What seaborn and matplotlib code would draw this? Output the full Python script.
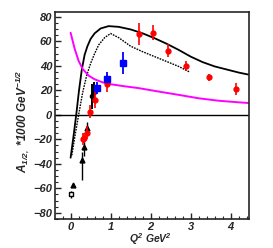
import numpy as np
import pandas as pd
import matplotlib
matplotlib.use("Agg")
import matplotlib.pyplot as plt
from matplotlib.ticker import MultipleLocator
import seaborn as sns

# model curves
solid_q2 = [0.0, 0.07, 0.14, 0.21, 0.28, 0.35, 0.42, 0.5, 0.6, 0.75, 0.95, 1.2, 1.5,
            1.8, 2.1, 2.4, 2.7, 3.0, 3.3, 3.6, 3.9, 4.2, 4.45]
solid_a = [-35, -18, 0, 20, 37, 49, 56, 62, 66.5, 70.5, 72.4, 71.8, 69.7,
           66.5, 62.5, 58, 53, 47.5, 43, 39.5, 37, 34.5, 32.8]
dotted_q2 = [0.03, 0.12, 0.2, 0.3, 0.4, 0.5, 0.6, 0.7, 0.85, 1.0, 1.2, 1.5, 1.8, 2.1,
             2.4, 2.7, 2.97]
dotted_a = [-33, -15, 0, 18, 32, 42, 50, 57, 63, 66.4, 63, 56, 51.5, 47.5, 43.5, 39.5, 35]
magenta_q2 = [0.0, 0.1, 0.2, 0.3, 0.45, 0.6, 0.8, 1.0, 1.3, 1.7, 2.2, 2.7, 3.2, 3.7, 4.2, 4.47]
magenta_a = [67, 54, 44, 37.5, 32, 29, 26.5, 25, 23.5, 21.8, 19, 16.3, 13.5, 11.5, 10.2, 9.6]

# data points
red_q2 = [0.30, 0.34, 0.40, 0.49, 0.61, 0.90, 1.72, 2.05, 2.43, 2.89, 3.46, 4.13]
red_a = [-20, -19, -14.5, 2.7, 12.3, 25.5, 65.6, 67, 52.5, 39.6, 30.6, 21]
red_err = [5, 4, 5, 5, 7, 7, 9, 6, 5, 4, 3, 5]

blue_q2 = [0.65, 0.92, 1.30]
blue_a = [22, 29.2, 42.4]
blue_err = [5, 6, 9]

tri_q2 = [0.28, 0.33, 0.40, 0.05]
tri_a = [-37, -26, -11, -57]
tri_lo = [16, 8, 5, 0]
tri_hi = [7, 8, 5, 0]

blk_q2 = [0.53, 0.58]
blk_a = [15, 19]
blk_err = [10, 8]

sq_q2 = [0.0]
sq_a = [-65]
sq_err = [3]

sns.set_style("ticks")
plt.rcParams['font.family'] = ['Liberation Sans', 'DejaVu Sans']
plt.rcParams['mathtext.fontset'] = 'custom'
plt.rcParams['mathtext.rm'] = 'Liberation Sans:bold:italic'
plt.rcParams['mathtext.it'] = 'Liberation Sans:bold:italic'
plt.rcParams['mathtext.bf'] = 'Liberation Sans:bold:italic'

fig = plt.figure(figsize=(2.73, 2.48), dpi=100)
ax = fig.add_axes([0.2015, 0.117, 0.711, 0.835])

ax.axhline(0, color="black", lw=1.0, zorder=1)

sns.lineplot(x=solid_q2, y=solid_a, color="black", lw=1.3, ax=ax, sort=False)
sns.lineplot(x=dotted_q2, y=dotted_a, color="black", lw=1.0, ax=ax, sort=False)
ax.lines[-1].set_linestyle((0, (1.2, 0.8)))
sns.lineplot(x=magenta_q2, y=magenta_a, color="#ff00ff", lw=1.4, ax=ax, sort=False)

ax.errorbar(red_q2, red_a, yerr=red_err, fmt="o", color="red", ms=3.5,
            elinewidth=1.2, capsize=0, zorder=5)
ax.errorbar(blue_q2, blue_a, yerr=blue_err, fmt="s", color="blue", ms=4.5,
            elinewidth=1.3, capsize=0, zorder=5)
ax.errorbar(blk_q2, blk_a, yerr=blk_err, fmt="o", color="black", ms=3,
            elinewidth=1.4, capsize=0, zorder=4)
ax.errorbar(tri_q2, tri_a, yerr=[tri_lo, tri_hi], fmt="^", color="black",
            mfc="black", ms=3.5, elinewidth=1.0, capsize=0, zorder=4)
ax.errorbar(sq_q2, sq_a, yerr=sq_err, fmt="s", color="black", mfc="white",
            ms=3.5, mew=1.0, elinewidth=1.0, capsize=0, zorder=4)

ax.set_xlim(-0.39, 4.46)
ax.set_ylim(-85, 84)
ax.xaxis.set_major_locator(MultipleLocator(1))
ax.xaxis.set_minor_locator(MultipleLocator(0.2))
ax.yaxis.set_major_locator(MultipleLocator(20))
ax.yaxis.set_minor_locator(MultipleLocator(5))
ax.tick_params(which="both", direction="in", top=False, right=False)
ax.tick_params(which="major", length=4, width=1, labelsize=8, pad=2)
ax.tick_params(which="minor", length=2, width=0.8)
for lab in ax.get_xticklabels() + ax.get_yticklabels():
    lab.set_fontweight("bold")
    lab.set_fontstyle("italic")
for s in ax.spines.values():
    s.set_visible(True)
    s.set_linewidth(1.2)

ax.set_xlabel(r"$Q^2$ GeV$^2$", fontsize=7.5, fontweight="bold", style="italic",
              va="center")
ax.set_ylabel(r"A$_{1/2,}$ *1000 GeV$^{-1/2}$", fontsize=8.5, fontweight="bold",
              style="italic", va="center")
ax.xaxis.set_label_coords(0.49, -0.095)
ax.yaxis.set_label_coords(-0.165, 0.47)

fig.savefig("out.png", dpi=100)
